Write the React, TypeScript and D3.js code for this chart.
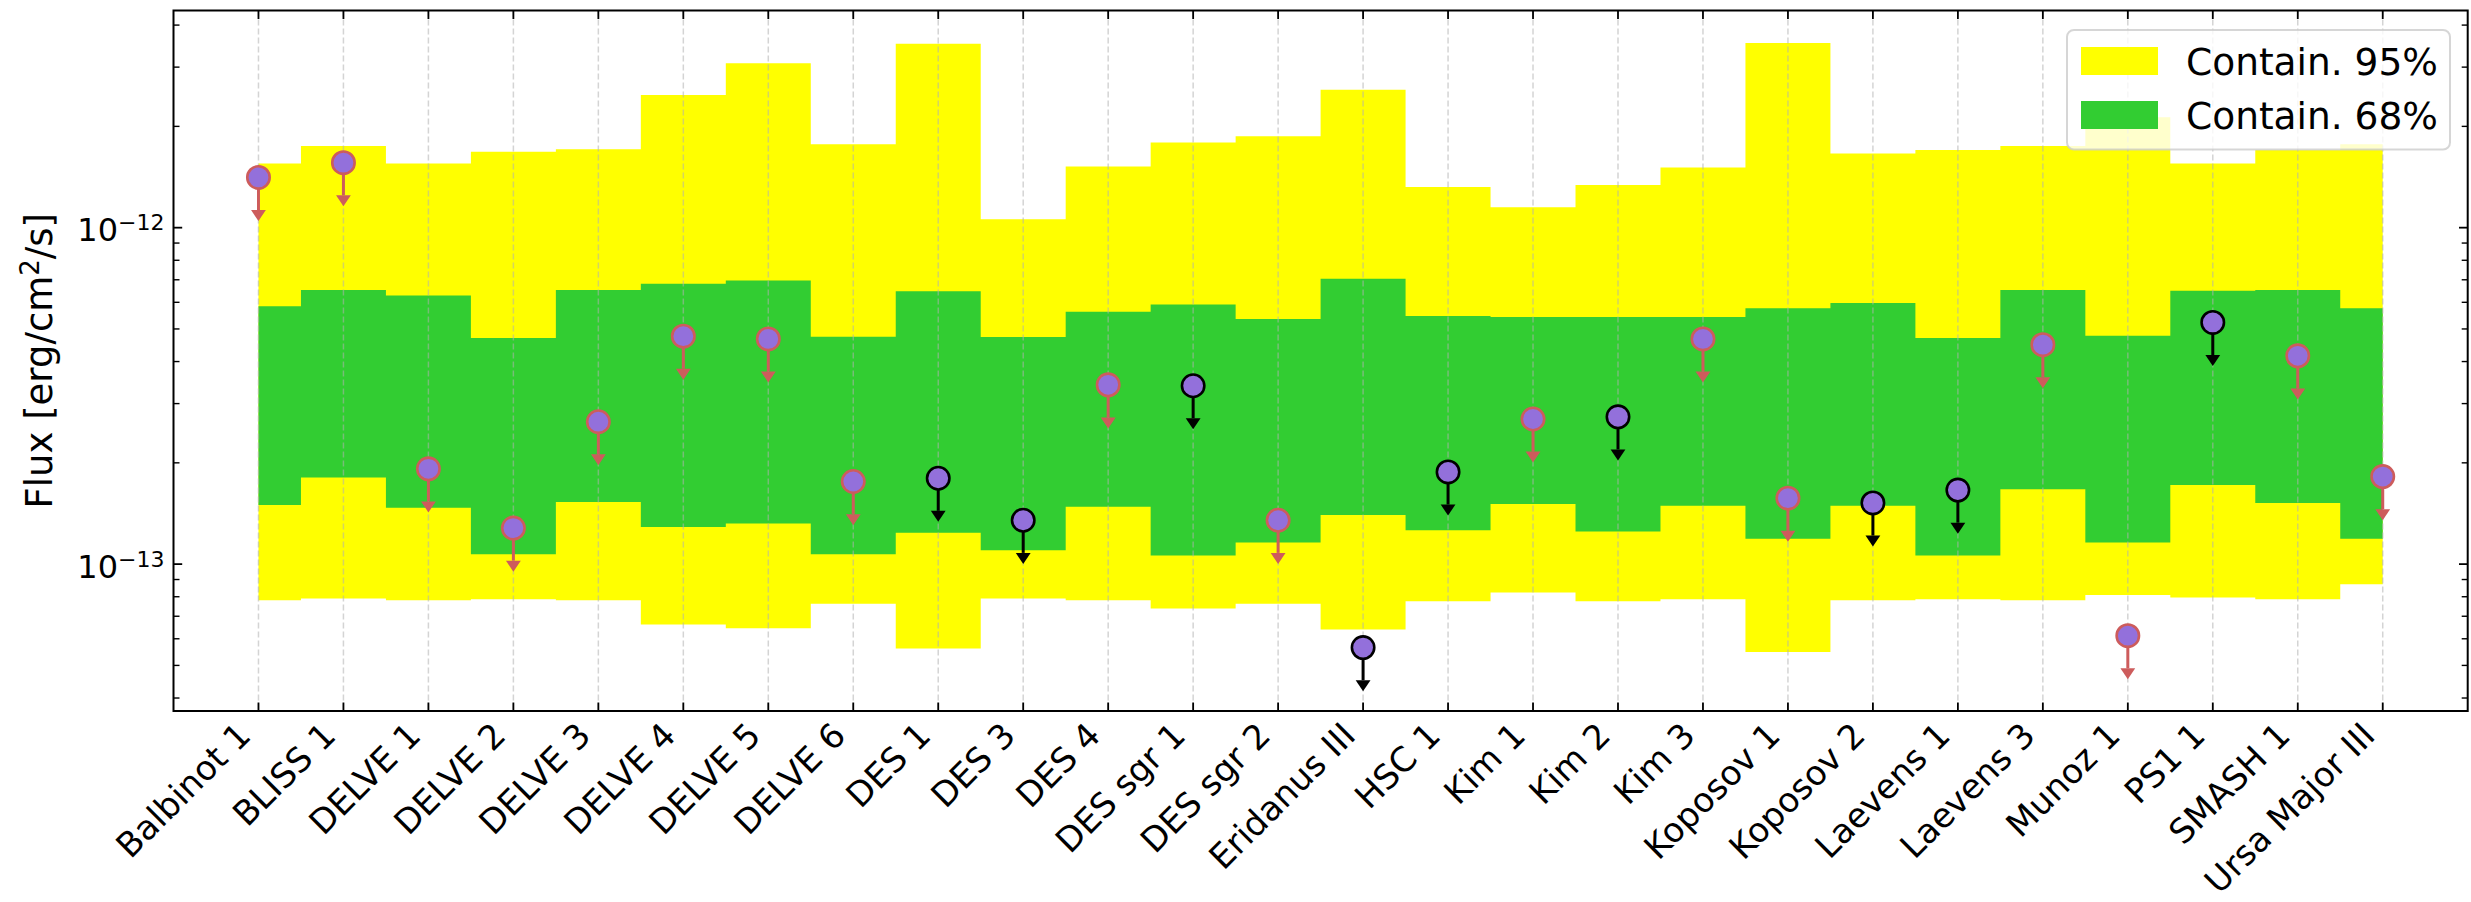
import {useEffect, useRef} from "react";
import * as d3 from "d3";

const categories = ["Balbinot 1", "BLISS 1", "DELVE 1", "DELVE 2", "DELVE 3", "DELVE 4", "DELVE 5", "DELVE 6",
    "DES 1", "DES 3", "DES 4", "DES sgr 1", "DES sgr 2", "Eridanus III", "HSC 1", "Kim 1", "Kim 2", "Kim 3",
    "Koposov 1", "Koposov 2", "Laevens 1", "Laevens 3", "Munoz 1", "PS1 1", "SMASH 1", "Ursa Major III"];

// containment bands (erg/cm2/s)
const upper95 = [1.55e-12, 1.75e-12, 1.55e-12, 1.68e-12, 1.71e-12, 2.48e-12, 3.08e-12, 1.77e-12, 3.52e-12, 1.06e-12,
    1.52e-12, 1.79e-12, 1.87e-12, 2.57e-12, 1.32e-12, 1.15e-12, 1.34e-12, 1.51e-12, 3.54e-12, 1.66e-12, 1.70e-12,
    1.75e-12, 2.13e-12, 1.55e-12, 1.70e-12, 1.77e-12];
const lower95 = [7.81e-14, 7.91e-14, 7.81e-14, 7.86e-14, 7.81e-14, 6.62e-14, 6.45e-14, 7.62e-14, 5.61e-14, 7.91e-14,
    7.81e-14, 7.38e-14, 7.62e-14, 6.39e-14, 7.76e-14, 8.24e-14, 7.76e-14, 7.86e-14, 5.48e-14, 7.81e-14, 7.86e-14,
    7.81e-14, 8.09e-14, 7.96e-14, 7.86e-14, 8.72e-14];
const upper68 = [5.84e-13, 6.53e-13, 6.29e-13, 4.70e-13, 6.53e-13, 6.81e-13, 6.96e-13, 4.74e-13, 6.47e-13, 4.73e-13,
    5.62e-13, 5.91e-13, 5.35e-13, 7.05e-13, 5.46e-13, 5.43e-13, 5.43e-13, 5.43e-13, 5.76e-13, 5.97e-13, 4.70e-13,
    6.53e-13, 4.77e-13, 6.49e-13, 6.53e-13, 5.76e-13];
const lower68 = [1.50e-13, 1.81e-13, 1.47e-13, 1.07e-13, 1.53e-13, 1.29e-13, 1.32e-13, 1.07e-13, 1.24e-13, 1.10e-13,
    1.48e-13, 1.06e-13, 1.16e-13, 1.40e-13, 1.26e-13, 1.51e-13, 1.25e-13, 1.49e-13, 1.19e-13, 1.49e-13, 1.06e-13,
    1.67e-13, 1.16e-13, 1.72e-13, 1.52e-13, 1.19e-13];

// flux upper limits, and which edge colour each point got
const fluxUL = [1.41e-12, 1.56e-12, 1.92e-13, 1.28e-13, 2.65e-13, 4.76e-13, 4.67e-13, 1.76e-13, 1.80e-13, 1.35e-13,
    3.41e-13, 3.39e-13, 1.35e-13, 5.65e-14, 1.88e-13, 2.70e-13, 2.74e-13, 4.67e-13, 1.57e-13, 1.52e-13, 1.66e-13,
    4.49e-13, 6.13e-14, 5.23e-13, 4.16e-13, 1.82e-13];
const edgeKind = ["red", "red", "red", "red", "red", "red", "red", "red", "black", "black", "red", "black", "red",
    "black", "black", "red", "black", "red", "red", "black", "black", "red", "red", "black", "red", "red"];
const ulFraction = 0.2;

const legendLabels = ["Contain. 95%", "Contain. 68%"];
const legendColors = ["#ffff00", "#32cd32"];

function App() {
    const ref = useRef<SVGSVGElement>(null);

    useEffect(() => {
        const W = 2471, H = 902;
        const left = 173.5, right = 2467.7, top = 10.5, bottom = 711;
        const font = "DejaVu Sans, sans-serif";

        const svg = d3.select(ref.current)
            .attr("width", W)
            .attr("height", H);
        svg.selectAll("*").remove();

        const x = d3.scaleLinear().domain([-1, 26]).range([left, right]);
        const y = d3.scaleLog().domain([3.66e-14, 4.42e-12]).range([bottom, top]);
        const idx = categories.map((_, i) => i);

        // bands, step 'mid'
        const band = (lo: number[], hi: number[]) => d3.area<number>()
            .x(i => x(i))
            .y0(i => y(lo[i]))
            .y1(i => y(hi[i]))
            .curve(d3.curveStep)(idx);

        svg.append("path").attr("d", band(lower95, upper95)).attr("fill", "#ffff00");
        svg.append("path").attr("d", band(lower68, upper68)).attr("fill", "#32cd32");

        // vertical dashed grid
        svg.selectAll("line.grid")
            .data(idx)
            .enter()
            .append("line")
            .attr("x1", d => x(d)).attr("x2", d => x(d))
            .attr("y1", top).attr("y2", bottom)
            .attr("stroke", "#b0b0b0")
            .attr("stroke-opacity", 0.55)
            .attr("stroke-width", 1.5)
            .attr("stroke-dasharray", "6,3");

        // upper limit points
        const col = (k: string) => k === "red" ? "#cd5c5c" : "#000000";
        const pts = svg.append("g");
        idx.forEach(i => {
            const cx = x(i), cy = y(fluxUL[i]);
            const yEnd = y(fluxUL[i] * (1 - ulFraction));
            const c = col(edgeKind[i]);
            pts.append("line")
                .attr("x1", cx).attr("x2", cx)
                .attr("y1", cy).attr("y2", yEnd)
                .attr("stroke", c).attr("stroke-width", 3);
            pts.append("path")
                .attr("d", `M${cx - 7.4},${yEnd}L${cx + 7.4},${yEnd}L${cx},${yEnd + 11}Z`)
                .attr("fill", c);
            pts.append("circle")
                .attr("cx", cx).attr("cy", cy).attr("r", 11.2)
                .attr("fill", "#9370db")
                .attr("stroke", c).attr("stroke-width", 2.6);
        });

        // ticks
        const axes = svg.append("g").attr("stroke", "#000");
        idx.forEach(i => {
            axes.append("line").attr("x1", x(i)).attr("x2", x(i)).attr("y1", bottom).attr("y2", bottom - 8.5).attr("stroke-width", 1.8);
            axes.append("line").attr("x1", x(i)).attr("x2", x(i)).attr("y1", top).attr("y2", top + 8.5).attr("stroke-width", 1.8);
        });
        const yt = y.ticks();
        yt.forEach(v => {
            const major = Math.abs(Math.log10(v) - Math.round(Math.log10(v))) < 1e-6;
            const len = major ? 8.7 : 6;
            const sw = major ? 1.8 : 1.4;
            axes.append("line").attr("x1", left).attr("x2", left + len).attr("y1", y(v)).attr("y2", y(v)).attr("stroke-width", sw);
            axes.append("line").attr("x1", right).attr("x2", right - len).attr("y1", y(v)).attr("y2", y(v)).attr("stroke-width", sw);
            if (major) {
                const t = svg.append("text")
                    .attr("x", left - 9)
                    .attr("y", y(v) + 13.5)
                    .attr("text-anchor", "end")
                    .attr("font-family", font)
                    .attr("font-size", 32);
                t.append("tspan").text("10");
                t.append("tspan").attr("dy", -11).attr("font-size", 22)
                    .text("\u2212" + Math.abs(Math.round(Math.log10(v))));
            }
        });

        // frame
        svg.append("rect")
            .attr("x", left).attr("y", top)
            .attr("width", right - left).attr("height", bottom - top)
            .attr("fill", "none").attr("stroke", "#000").attr("stroke-width", 2);

        // category labels, rotated 45 and right-aligned on the tick
        svg.selectAll("text.cat")
            .data(categories)
            .enter()
            .append("text")
            .attr("transform", (d, i) => `translate(${x(i) - 5.8},${bottom + 26.5}) rotate(-45)`)
            .attr("text-anchor", "end")
            .attr("font-family", font)
            .attr("font-size", 34)
            .text(d => d);

        // y label
        const yl = svg.append("text")
            .attr("transform", `translate(51.7,${(top + bottom) / 2}) rotate(-90)`)
            .attr("text-anchor", "middle")
            .attr("font-family", font)
            .attr("font-size", 37);
        yl.append("tspan").text("Flux [erg/cm");
        yl.append("tspan").attr("dy", -13).attr("font-size", 26).text("2");
        yl.append("tspan").attr("dy", 13).text("/s]");

        // legend
        const lg = svg.append("g");
        lg.append("rect")
            .attr("x", 2067).attr("y", 30)
            .attr("width", 383).attr("height", 119.5)
            .attr("rx", 7)
            .attr("fill", "#fff").attr("fill-opacity", 0.8)
            .attr("stroke", "#cccccc").attr("stroke-opacity", 0.8).attr("stroke-width", 2);
        legendLabels.forEach((lab, k) => {
            const yy = 47 + k * 54;
            lg.append("rect")
                .attr("x", 2081).attr("y", yy)
                .attr("width", 77).attr("height", 28)
                .attr("fill", legendColors[k]);
            lg.append("text")
                .attr("x", 2186)
                .attr("y", yy + 28)
                .attr("font-family", font)
                .attr("font-size", 37.5)
                .text(lab);
        });
    }, []);

    return (
        <div style={{position: "absolute", left: 0, top: 0}}>
            <svg ref={ref}></svg>
        </div>
    );
}

export default App;
